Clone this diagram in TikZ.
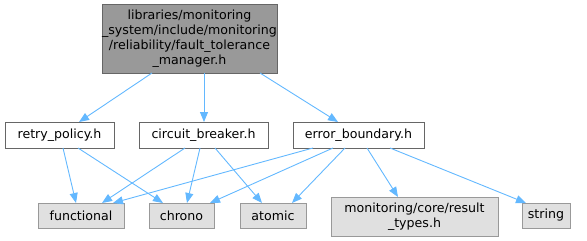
\documentclass[tikz,border=0pt]{standalone}
\usepackage{fontspec}
\setmainfont{DejaVu Sans}
\usetikzlibrary{calc,arrows.meta}
\definecolor{edgeblue}{HTML}{63B8FF}
\definecolor{topfill}{HTML}{999999}
\definecolor{darkborder}{HTML}{666666}
\definecolor{sysfill}{HTML}{E0E0E0}
\definecolor{sysborder}{HTML}{999999}
\begin{document}
\begin{tikzpicture}[x=1pt,y=-1pt,
  every node/.style={font=\fontsize{12.6}{15}\selectfont, inner sep=0pt, outer sep=0pt, text=black},
  rootbox/.style={draw=darkborder, fill=topfill, line width=0.9pt, align=center},
  headerbox/.style={draw=darkborder, fill=white, line width=0.9pt},
  sysbox/.style={draw=sysborder, fill=sysfill, line width=0.9pt, align=center},
  dep/.style={draw=edgeblue, line width=0.9pt, -{Triangle[length=10pt,width=8pt]}}]
\useasboundingbox (0,0) rectangle (587,241);

% root header
\node[rootbox, minimum width=175pt, minimum height=69pt] (root) at (189.5,38.5)
  {libraries/monitoring\\\_system/include/monitoring\\/reliability/fault\_tolerance\\\_manager.h};

% directly included headers
\node[headerbox, minimum width=109pt, minimum height=26pt] (retry) at (59.5,135) {retry\_policy.h};
\node[headerbox, minimum width=129pt, minimum height=26pt] (circuit) at (203.5,135) {circuit\_breaker.h};
\node[headerbox, minimum width=131pt, minimum height=26pt] (errb) at (358.5,135) {error\_boundary.h};

% leaf headers
\node[sysbox, minimum width=86pt, minimum height=25pt] (functional) at (81,215.5) {functional};
\node[sysbox, minimum width=65pt, minimum height=25pt] (chrono) at (181.5,215.5) {chrono};
\node[sysbox, minimum width=66pt, minimum height=25pt] (atomic) at (273,215.5) {atomic};
\node[sysbox, minimum width=167pt, minimum height=39pt] (result) at (414.5,216.5) {monitoring/core/result\\\_types.h};
\node[sysbox, minimum width=48pt, minimum height=25pt] (string) at (546,215.5) {string};

% root dependencies
\draw[dep] ($(root.south)+(-37.5,0)$) -- ($(retry.north)+(19.5,0)$);
\draw[dep] ($(root.south)+(14.5,0)$) -- ($(circuit.north)+(0.5,0)$);
\draw[dep] ($(root.south)+(70.5,0)$) -- ($(errb.north)+(-20.5,0)$);

% retry_policy.h
\draw[dep] ($(retry.south)+(3.5,0)$) -- ($(functional.north)+(-5,0)$);
\draw[dep] ($(retry.south)+(18.5,0)$) -- ($(chrono.north)+(-18.5,0)$);

% circuit_breaker.h
\draw[dep] ($(circuit.south)+(-18.5,0)$) -- ($(functional.north)+(21,0)$);
\draw[dep] ($(circuit.south)+(-3.5,0)$) -- ($(chrono.north)+(5.5,0)$);
\draw[dep] ($(circuit.south)+(11.5,0)$) -- ($(atomic.north)+(-11,0)$);

% error_boundary.h
\draw[dep] ($(errb.south)+(-45.5,0)$) -- ($(functional.north)+(32,0)$);
\draw[dep] ($(errb.south)+(-25.5,0)$) -- ($(chrono.north)+(28.5,0)$);
\draw[dep] ($(errb.south)+(-13.5,0)$) -- ($(atomic.north)+(19,0)$);
\draw[dep] ($(errb.south)+(8.5,0)$) -- ($(result.north)+(-16.5,0)$);
\draw[dep] ($(errb.south)+(31.5,0)$) -- ($(string.north)+(-20,0)$);
\end{tikzpicture}
\end{document}
